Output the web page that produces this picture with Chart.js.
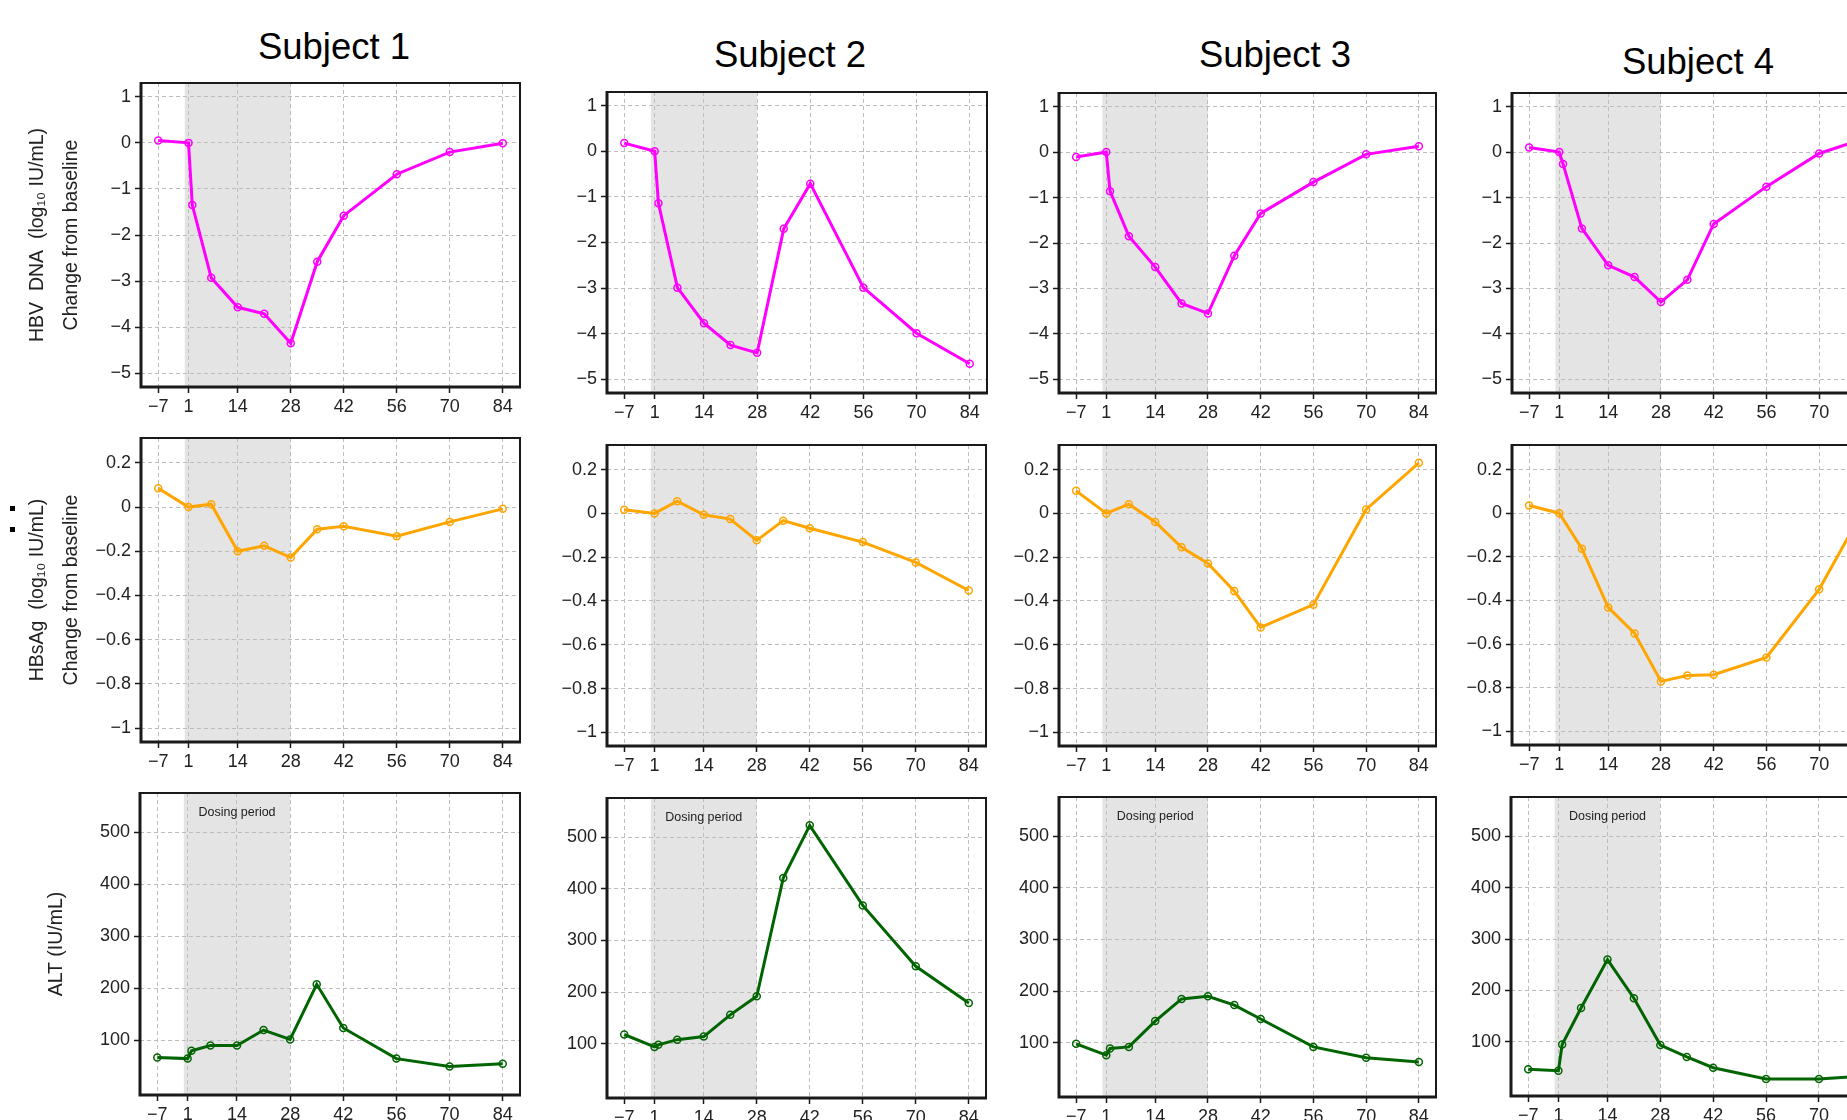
<!DOCTYPE html>
<html>
<head>
<meta charset="utf-8">
<script src="https://cdn.jsdelivr.net/npm/chart.js@4.4.1/dist/chart.umd.min.js"></script>
<style>
  html, body { margin: 0; padding: 0; background: #fff; }
  body { width: 1847px; height: 1120px; overflow: hidden; position: relative;
         font-family: "Liberation Sans", Arial, sans-serif; }
  .panel { position: absolute; }
  .subject { position: absolute; line-height: 1; color: #000; white-space: nowrap;
             transform: translateX(-50%); }
  .dot { position: absolute; width: 5px; height: 5px; background: #000; }
</style>
</head>
<body>
<div class="dot" style="left:10px;top:506px"></div>
<div class="dot" style="left:10px;top:527px"></div>
<script>
// study days and axis ticks
var days = [-7, 1, 2, 7, 14, 21, 28, 35, 42, 56, 70, 84];
var xTicks = [-7, 1, 14, 28, 42, 56, 70, 84];
var dosingStart = 0, dosingEnd = 28;
var subjects = ['Subject 1', 'Subject 2', 'Subject 3', 'Subject 4'];

// HBV DNA, change from baseline (log10 IU/mL)
var dnaS1 = [0.05, 0, -1.35, -2.93, -3.57, -3.71, -4.35, -2.58, -1.58, -0.68, -0.20, -0.01];
var dnaS2 = [0.18, 0, -1.14, -2.99, -3.77, -4.25, -4.42, -1.70, -0.71, -2.99, -3.99, -4.66];
var dnaS3 = [-0.11, 0, -0.86, -1.85, -2.53, -3.33, -3.55, -2.28, -1.35, -0.66, -0.05, 0.13];
var dnaS4 = [0.10, 0, -0.26, -1.68, -2.49, -2.75, -3.30, -2.81, -1.58, -0.76, -0.03, 0.35];

// HBsAg, change from baseline (no day 2 sample)
var sagS1 = [0.085, 0, null, 0.013, -0.200, -0.175, -0.228, -0.100, -0.087, -0.132, -0.067, -0.008];
var sagS2 = [0.017, 0, null, 0.056, -0.006, -0.026, -0.123, -0.033, -0.068, -0.131, -0.224, -0.352];
var sagS3 = [0.103, 0, null, 0.042, -0.039, -0.155, -0.229, -0.355, -0.521, -0.417, 0.018, 0.231];
var sagS4 = [0.035, 0, null, -0.163, -0.432, -0.551, -0.771, -0.744, -0.740, -0.661, -0.349, 0.085];

// ALT (IU/mL)
var altS1 = [67, 65, 80, 90, 90, 120, 102, 208, 124, 65, 50, 55];
var altS2 = [118, 94, 98, 108, 114, 156, 192, 421, 523, 368, 250, 179];
var altS3 = [98, 76, 89, 92, 142, 185, 190, 173, 146, 92, 71, 63];
var altS4 = [47, 44, 95, 166, 260, 185, 94, 71, 50, 28, 28, 35];

var dnaTicks = [-5, -4, -3, -2, -1, 0, 1];
var sagTicks = [-1, -0.8, -0.6, -0.4, -0.2, 0, 0.2];
var altTicks = [100, 200, 300, 400, 500];

var rows = [
  { series: [dnaS1, dnaS2, dnaS3, dnaS4], color: '#ff00ff', ticks: dnaTicks, min: -5.3, max: 1.3,
    title: ['HBV  DNA  (log\u2081\u2080 IU/mL)', 'Change from baseline'], titlePad: 20.5, label: '' },
  { series: [sagS1, sagS2, sagS3, sagS4], color: '#ffa500', ticks: sagTicks, min: -1.0625, max: 0.3125,
    title: ['HBsAg  (log\u2081\u2080 IU/mL)', 'Change from baseline'], titlePad: 20.5, label: '' },
  { series: [altS1, altS2, altS3, altS4], color: '#006400', ticks: altTicks, min: -5, max: 576,
    title: 'ALT (IU/mL)', titlePad: 40, label: 'Dosing period' }
];

// plot area boxes [left, top, right, bottom], row by row
var boxes = [
  [[141, 83, 520, 387], [607, 92, 987, 393], [1059, 93, 1436, 393], [1512, 93, 1889, 393]],
  [[141, 438, 520, 742], [607, 445, 986, 746], [1059, 445, 1436, 746], [1512, 445, 1889, 745]],
  [[140, 793, 520, 1095], [607, 798, 986, 1098], [1059, 797, 1436, 1097], [1511, 797, 1889, 1096]]
];
var titlePos = [[334, 60, 36.5], [790, 68, 36.5], [1275, 68, 36.5], [1698, 75, 36.5]];

var FONT = '"Liberation Sans", Arial, sans-serif';
var padT = 20, padR = 20, xAxisH = 40;

function fmt(v) {
  return String(Math.round(v * 10) / 10).replace('-', '\u2212');
}

var panelPlugin = {
  id: 'panel',
  beforeDraw: function(chart, args, opts) {
    var a = chart.chartArea, x = chart.scales.x, ctx = chart.ctx;
    var x0 = x.getPixelForValue(dosingStart), x1 = x.getPixelForValue(dosingEnd);
    ctx.save();
    ctx.fillStyle = '#e4e4e4';
    ctx.fillRect(x0, a.top, x1 - x0, a.bottom - a.top);
    ctx.restore();
  },
  afterDraw: function(chart, args, opts) {
    var a = chart.chartArea, x = chart.scales.x, ctx = chart.ctx;
    ctx.save();
    if (opts.label) {
      ctx.fillStyle = '#222';
      ctx.font = '12.5px ' + FONT;
      ctx.textAlign = 'center';
      ctx.textBaseline = 'middle';
      ctx.fillText(opts.label, x.getPixelForValue((dosingStart + dosingEnd) / 2), a.top + 20);
    }
    ctx.strokeStyle = '#1a1a1a';
    ctx.lineWidth = 2;
    ctx.beginPath();
    ctx.moveTo(a.left, a.top); ctx.lineTo(a.right, a.top); ctx.lineTo(a.right, a.bottom);
    ctx.stroke();
    ctx.lineWidth = 3;
    ctx.beginPath();
    ctx.moveTo(a.left, a.top - 1); ctx.lineTo(a.left, a.bottom); ctx.lineTo(a.right + 1, a.bottom);
    ctx.stroke();
    ctx.restore();
  }
};

subjects.forEach(function(name, c) {
  var t = document.createElement('div');
  t.className = 'subject';
  t.textContent = name;
  t.style.fontSize = titlePos[c][2] + 'px';
  t.style.left = titlePos[c][0] + 'px';
  t.style.top = (titlePos[c][1] - 0.8465 * titlePos[c][2]) + 'px';
  document.body.appendChild(t);
});

rows.forEach(function(row, r) {
  row.series.forEach(function(vals, c) {
    var b = boxes[r][c];
    var yAxisW = c === 0 ? b[0] : 70;
    var w = yAxisW + (b[2] - b[0]) + padR;
    var h = padT + (b[3] - b[1]) + xAxisH;
    var div = document.createElement('div');
    div.className = 'panel';
    div.style.left = (b[0] - yAxisW) + 'px';
    div.style.top = (b[1] - padT) + 'px';
    var cv = document.createElement('canvas');
    cv.width = w; cv.height = h;
    cv.style.width = w + 'px'; cv.style.height = h + 'px';
    div.appendChild(cv);
    document.body.appendChild(div);

    var pts = [];
    days.forEach(function(d, i) {
      if (vals[i] !== null) pts.push({ x: d, y: vals[i] });
    });

    var tickFont = { family: FONT, size: 18 };
    new Chart(cv, {
      type: 'line',
      data: {
        datasets: [{
          data: pts,
          borderColor: row.color,
          borderWidth: 3,
          pointRadius: 3.5,
          pointBorderWidth: 1.5,
          pointBorderColor: row.color,
          pointBackgroundColor: 'rgba(0,0,0,0)',
          tension: 0,
          spanGaps: true
        }]
      },
      options: {
        responsive: false,
        animation: false,
        events: [],
        devicePixelRatio: 1,
        layout: { padding: { top: padT, right: padR, left: 0, bottom: 0 } },
        plugins: {
          legend: { display: false },
          tooltip: { enabled: false },
          panel: { label: row.label }
        },
        scales: {
          x: {
            type: 'linear',
            min: -11.55,
            max: 88.55,
            afterBuildTicks: function(s) { s.ticks = xTicks.map(function(v) { return { value: v }; }); },
            afterFit: function(s) { s.height = xAxisH; },
            grid: { color: '#bdbdbd', lineWidth: 1, tickLength: 6, tickColor: '#1a1a1a', tickWidth: 1.5 },
            border: { display: false, dash: [4, 3] },
            ticks: { color: '#222', font: tickFont, padding: 3, maxRotation: 0, autoSkip: false,
                     callback: function(v) { return fmt(v); } }
          },
          y: {
            type: 'linear',
            min: row.min,
            max: row.max,
            afterBuildTicks: function(s) { s.ticks = row.ticks.map(function(v) { return { value: v }; }); },
            afterFit: function(s) { s.width = yAxisW; },
            grid: { color: '#bdbdbd', lineWidth: 1, tickLength: 6, tickColor: '#1a1a1a', tickWidth: 1.5 },
            border: { display: false, dash: [4, 3] },
            ticks: { color: '#222', font: tickFont, padding: 4, autoSkip: false,
                     callback: function(v) { return fmt(v); } },
            title: {
              display: c === 0,
              text: row.title,
              color: '#222',
              font: { family: FONT, size: 19.5, lineHeight: 1.74 },
              padding: { top: row.titlePad, bottom: 0 }
            }
          }
        }
      },
      plugins: [panelPlugin]
    });
  });
});
</script>
</body>
</html>
